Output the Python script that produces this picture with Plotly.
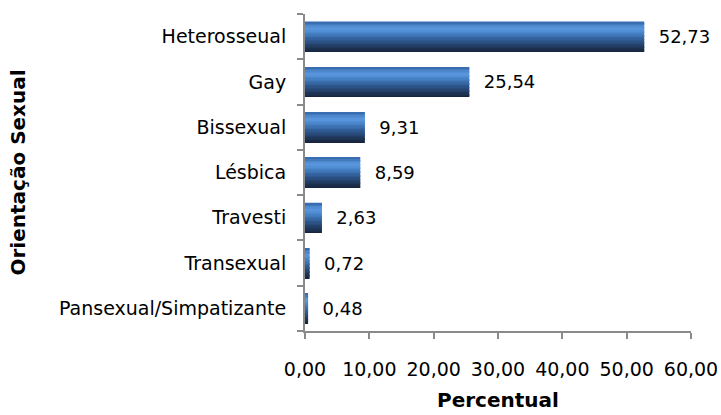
import plotly.graph_objects as go

categories = ["Heterosseual", "Gay", "Bissexual", "Lésbica", "Travesti", "Transexual", "Pansexual/Simpatizante"]
values = [52.73, 25.54, 9.31, 8.59, 2.63, 0.72, 0.48]
x_ticks = [0, 10, 20, 30, 40, 50, 60]

# bottom-to-top for the axis
cats = categories[::-1]
vals = values[::-1]

# gradient stops (fraction from bottom of bar, rgb)
stops = [(0.0, (21, 35, 58)), (0.15, (31, 53, 87)), (0.4, (47, 90, 147)),
         (0.65, (74, 134, 204)), (0.78, (90, 152, 224)), (0.9, (74, 132, 200)),
         (1.0, (52, 102, 170))]

def color_at(f):
    for (f0, c0), (f1, c1) in zip(stops[:-1], stops[1:]):
        if f0 <= f <= f1:
            t = (f - f0) / (f1 - f0) if f1 > f0 else 0
            c = [round(a + (b - a) * t) for a, b in zip(c0, c1)]
            return "rgb(%d,%d,%d)" % tuple(c)
    return "rgb(%d,%d,%d)" % stops[-1][1]

FONT = "DejaVu Sans"
bar_w = 0.66
n = 22
h = bar_w / n
fig = go.Figure()
for i in range(n):
    f = (i + 0.5) / n
    fig.add_trace(go.Bar(
        y=cats, x=vals, orientation="h",
        width=h * 1.08, offset=-bar_w / 2 + i * h,
        marker=dict(color=color_at(f), line=dict(width=0)),
        hoverinfo="skip", showlegend=False,
    ))

fig.add_trace(go.Bar(
    y=cats, x=vals, orientation="h", width=bar_w,
    marker=dict(color="rgba(0,0,0,0)", line=dict(width=0)),
    texttemplate="  %{x:.2f}", textposition="outside", cliponaxis=False,
    textfont=dict(family=FONT, size=18, color="#000000"),
    showlegend=False,
))

W, H = 721, 415
ML, MR, MT, MB = 305, 30, 14, 84
pw, ph = W - ML - MR, H - MT - MB

axis_color = "#8a8a8a"
fig.update_layout(
    width=W, height=H,
    barmode="overlay",
    separators=",.",
    plot_bgcolor="white", paper_bgcolor="white",
    margin=dict(l=ML, r=MR, t=MT, b=MB, autoexpand=False),
    font=dict(family=FONT, size=19, color="#000000"),
    xaxis=dict(
        range=[0, 60], tickvals=x_ticks, tickformat=".2f",
        showgrid=False, zeroline=False, automargin=False,
        showline=True, linecolor=axis_color, linewidth=2,
        ticks="outside", ticklen=6, tickwidth=2, tickcolor=axis_color,
        ticklabelstandoff=14,
    ),
    yaxis=dict(
        type="category", categoryorder="array", categoryarray=cats,
        range=[-0.5, len(cats) - 0.5], automargin=False,
        showgrid=False, zeroline=False,
        showline=True, linecolor=axis_color, linewidth=2,
        ticks="outside", ticklen=6, tickwidth=2, tickcolor=axis_color,
        tickson="boundaries", ticklabelstandoff=13,
    ),
    annotations=[
        dict(text="<b>Percentual</b>", x=0.5, y=(H - MB - 400) / ph,
             xref="paper", yref="paper", xanchor="center", yanchor="middle",
             showarrow=False, font=dict(family=FONT, size=20)),
        dict(text="<b>Orientação Sexual</b>", x=(17 - ML) / pw, y=0.5,
             xref="paper", yref="paper", xanchor="center", yanchor="middle",
             showarrow=False, textangle=-90, font=dict(family=FONT, size=20)),
    ],
)

fig.write_html("out.html", config={"displayModeBar": False},
               post_script="document.body.style.margin='0';document.body.style.overflow='hidden';")
